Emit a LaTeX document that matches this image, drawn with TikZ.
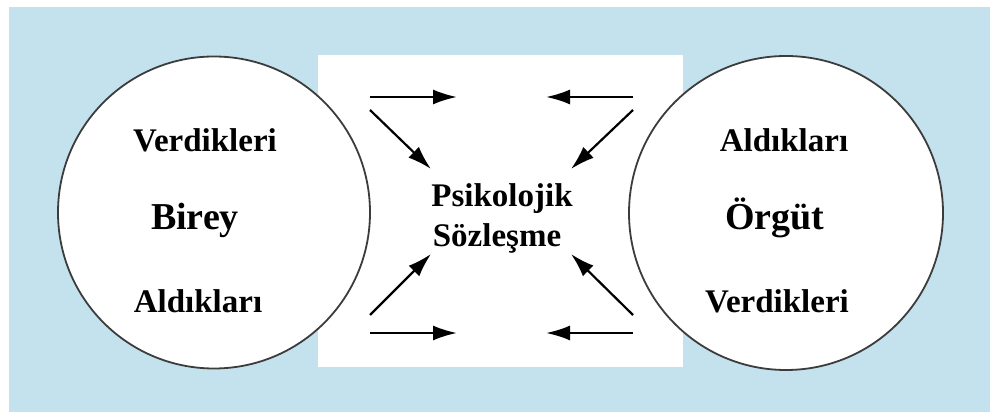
\documentclass[tikz,border=0pt]{standalone}
\usepackage{fontspec}
\setmainfont{Liberation Serif}
\usetikzlibrary{arrows.meta}
\definecolor{bgblue}{RGB}{196,226,238}
\definecolor{edgegray}{RGB}{60,60,60}
\tikzset{
  label/.style={font=\bfseries\fontsize{16.5}{19}\selectfont,anchor=base,inner sep=0pt},
  biglabel/.style={font=\bfseries\fontsize{19}{22}\selectfont,anchor=base,inner sep=0pt},
  party/.style={circle,draw=edgegray,fill=white,line width=0.9pt,minimum size=#1,inner sep=0pt}
}
\begin{document}
\begin{tikzpicture}[x=0.5pt,y=0.5pt,->,>={Latex[length=12pt,width=7.5pt]},line width=1.1pt]

\useasboundingbox (0,0) rectangle (995,412);
\fill [white] (0,0) rectangle (995,412);
\fill [bgblue] (9,0) rectangle (990,405);
\node (contract) [fill=white,anchor=south west,minimum width=182.5pt,minimum height=156pt,inner sep=0pt] at (317,44) {};

\node (birey) [party=156pt] at (214,199.5) {};
\node (orgut) [party=157pt] at (786,199) {};

\coordinate (tla) at (370,315); \coordinate (tlb) at (457,315);
\coordinate (tlc) at (370,302); \coordinate (tld) at (431,243);
\coordinate (blc) at (370,97);  \coordinate (bld) at (431,158);
\coordinate (bla) at (370,79);  \coordinate (blb) at (457,79);
\coordinate (tra) at (633,315); \coordinate (trb) at (546,315);
\coordinate (trc) at (633,302); \coordinate (trd) at (571,243);
\coordinate (brc) at (633,97);  \coordinate (brd) at (571,158);
\coordinate (bra) at (633,79);  \coordinate (brb) at (546,79);
\path [->]
    (tla) edge (tlb)
    (tlc) edge (tld)
    (blc) edge (bld)
    (bla) edge (blb)
    (tra) edge (trb)
    (trc) edge (trd)
    (brc) edge (brd)
    (bra) edge (brb)
;

\node (bverdik) [label] at (205,260) {Verdikleri};
\node (bname) [biglabel] at (195,182) {Birey};
\node (baldik) [label] at (198,99) {Aldıkları};
\node (oaldik) [label] at (784,260) {Aldıkları};
\node (oname) [biglabel] at (775,182) {Örgüt};
\node (overdik) [label] at (777,99) {Verdikleri};
\node (psiko) [label] at (502,205) {Psikolojik};
\node (sozles) [label] at (497,165) {Sözleşme};

\end{tikzpicture}
\end{document}
